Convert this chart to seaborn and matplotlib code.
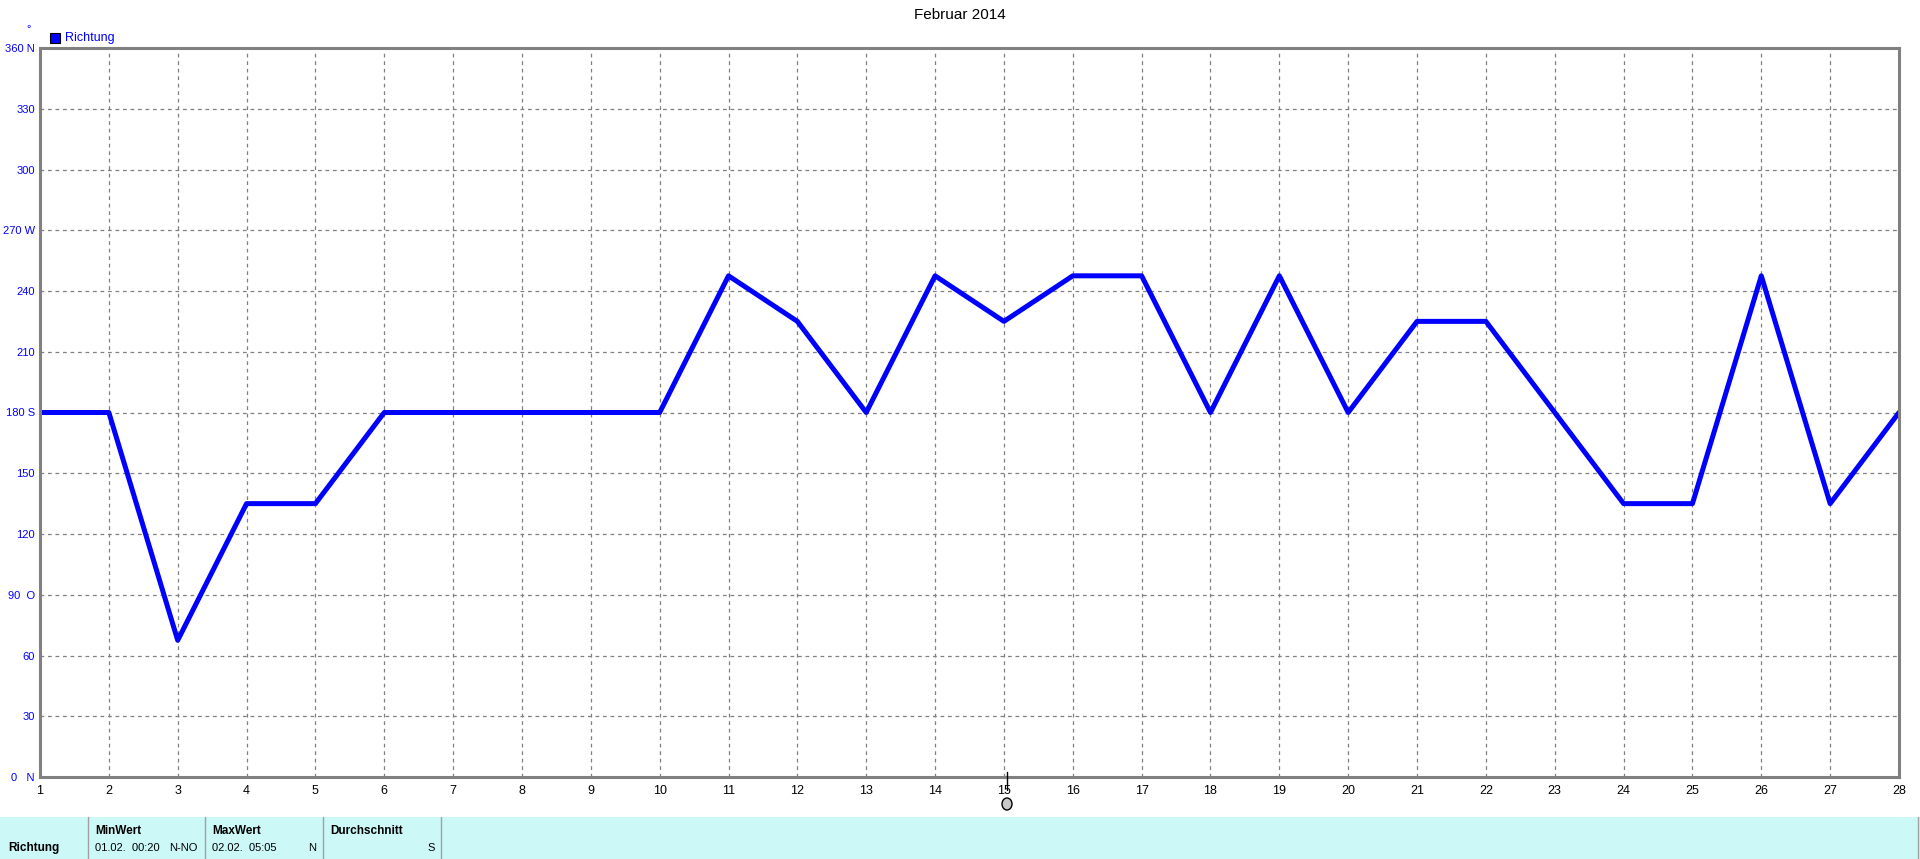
import matplotlib
matplotlib.use("Agg")
import matplotlib.pyplot as plt
import seaborn as sns
import pandas as pd
from matplotlib.patches import Rectangle, Ellipse

days = list(range(1, 29))
richtung = [180, 180, 67.5, 135, 135, 180, 180, 180, 180, 180,
            247.5, 225, 180, 247.5, 225, 247.5, 247.5, 180, 247.5, 180,
            225, 225, 180, 135, 135, 247.5, 135, 180]
y_ticks = [0, 30, 60, 90, 120, 150, 180, 210, 240, 270, 300, 330, 360]
y_labels = ["0   N", "30", "60", "90  O", "120", "150", "180 S", "210", "240",
            "270 W", "300", "330", "360 N"]
title = "Februar 2014"
series_name = "Richtung"
table_headers = ["MinWert", "MaxWert", "Durchschnitt"]
table_values = [("01.02.  00:20", "N-NO"), ("02.02.  05:05", "N"), ("", "S")]

sns.set_style("white")
plt.rcParams['font.family'] = ['Liberation Sans', 'DejaVu Sans']

W, H = 1920, 859
fig = plt.figure(figsize=(W / 100, H / 100), dpi=100)
ax = fig.add_axes([40 / W, 1 - 777 / H, (1899 - 40) / W, (777 - 48) / H])

df = pd.DataFrame({"Tag": days, series_name: richtung})
sns.lineplot(data=df, x="Tag", y=series_name, ax=ax, color="#0000FF",
             linewidth=3.6, legend=False)

ax.set_xlim(1, 28)
ax.set_ylim(0, 360)
ax.set_xticks(days)
ax.set_xticklabels([str(d) for d in days], fontsize=9, color="black")
ax.set_yticks(y_ticks)
ax.set_yticklabels(y_labels, fontsize=8, color="#0000FF")
ax.set_xlabel("")
ax.set_ylabel("")
ax.grid(True, color="#808080", linestyle=(0, (3, 3)), linewidth=0.9)
for s in ax.spines.values():
    s.set_color("#808080")
    s.set_linewidth(2.2)
ax.tick_params(axis="x", direction="out", length=4, width=1, color="#808080", pad=2)
ax.tick_params(axis="y", direction="out", length=3, width=1, color="#808080", pad=0.8)

fig.text(960 / W, 1 - 15 / H, title, ha="center", va="center", fontsize=11, color="black")
fig.text(29 / W, 1 - 29 / H, "°", ha="center", va="center", fontsize=8, color="#0000FF")
fig.patches.append(Rectangle((50 / W, 1 - 43 / H), 10 / W, 10 / H, transform=fig.transFigure,
                             facecolor="#0000FF", edgecolor="black", linewidth=0.8))
fig.text(65 / W, 1 - 38 / H, series_name, ha="left", va="center", fontsize=9, color="#0000FF")

# marker under day 15
fig.patches.append(Ellipse((1007 / W, 1 - 804 / H), 10 / W, 12 / H, transform=fig.transFigure,
                           facecolor="#C8C8C8", edgecolor="black", linewidth=1))
fig.lines.append(plt.Line2D([1007 / W, 1007 / W], [1 - 772 / H, 1 - 790 / H],
                            transform=fig.transFigure, color="black", linewidth=1))

# bottom table
fig.patches.append(Rectangle((0, 0), 1, (H - 817) / H, transform=fig.transFigure,
                             facecolor="#CCF8F8", edgecolor="none"))
for xs in [88, 205, 323, 441, 1918]:
    fig.lines.append(plt.Line2D([xs / W, xs / W], [0, (H - 817) / H],
                                transform=fig.transFigure, color="#A0A0A0", linewidth=1))
fig.text(8 / W, 1 - 848 / H, series_name, ha="left", va="center", fontsize=8.5,
         fontweight="bold", color="black")
col_left = [95, 212, 330]
col_right = [198, 316, 435]
for i in range(3):
    fig.text(col_left[i] / W, 1 - 831 / H, table_headers[i], ha="left", va="center",
             fontsize=8.5, fontweight="bold", color="black")
    fig.text(col_left[i] / W, 1 - 848 / H, table_values[i][0], ha="left", va="center",
             fontsize=8, color="black")
    fig.text(col_right[i] / W, 1 - 848 / H, table_values[i][1], ha="right", va="center",
             fontsize=8, color="black")

fig.savefig("out.png", dpi=100, facecolor="white")
